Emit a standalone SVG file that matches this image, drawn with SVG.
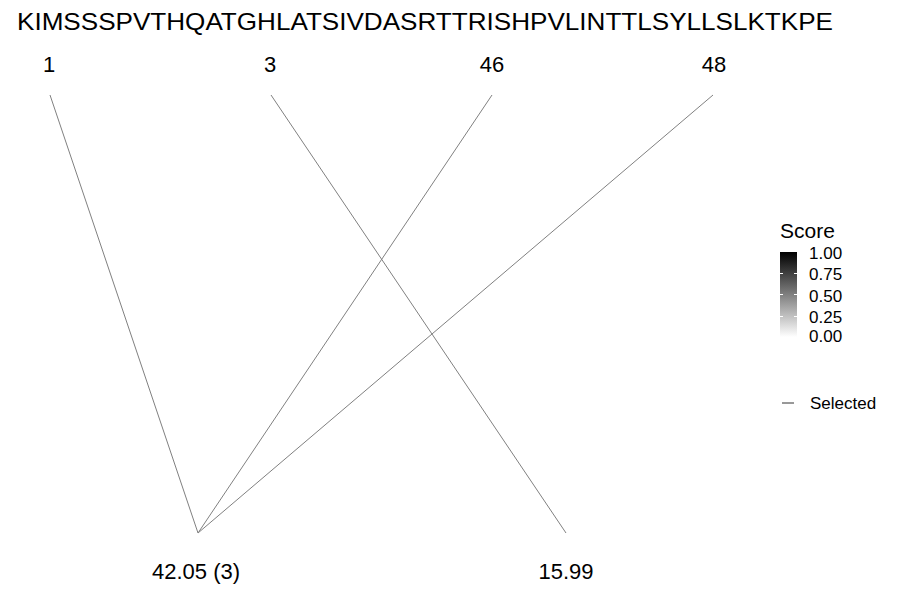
<svg xmlns="http://www.w3.org/2000/svg" width="900" height="600" viewBox="0 0 900 600">
<style>
text{font-family:"Liberation Sans",Arial,sans-serif;fill:#000}
.lbl{font-size:22px;text-anchor:middle}
.tk{font-size:17px}
.conn line{stroke:#808080;stroke-width:1}
</style>
<defs>
<linearGradient id="g" x1="0" y1="0" x2="0" y2="1">
<stop offset="0" stop-color="#000"/>
<stop offset="1" stop-color="#fff"/>
</linearGradient>
</defs>
<rect width="900" height="600" fill="#fff"/>
<text x="17" y="29.5" font-size="24" textLength="816" lengthAdjust="spacingAndGlyphs">KIMSSSPVTHQATGHLATSIVDASRTTRISHPVLINTTLSYLLSLKTKPE</text>
<g id="top-1"><text class="lbl" x="49" y="72">1</text></g>
<g id="top-3"><text class="lbl" x="270" y="72">3</text></g>
<g id="top-46"><text class="lbl" x="492" y="72">46</text></g>
<g id="top-48"><text class="lbl" x="714" y="72">48</text></g>
<g id="bot-42"><text class="lbl" x="196" y="579">42.05 (3)</text></g>
<g id="bot-15"><text class="lbl" x="566" y="579">15.99</text></g>
<g id="connectors" class="conn">
<line x1="50" y1="95" x2="198" y2="533"/>
<line x1="271" y1="95" x2="566" y2="533"/>
<line x1="492" y1="95" x2="198" y2="533"/>
<line x1="713" y1="95" x2="198" y2="533"/>
</g>
<g id="legend">
<text x="780" y="238" font-size="21">Score</text>
<rect x="780" y="252" width="17" height="85" fill="url(#g)"/>
<g stroke="#fff" stroke-width="1">
<line x1="780" y1="273.5" x2="783" y2="273.5"/><line x1="794" y1="273.5" x2="797" y2="273.5"/>
<line x1="780" y1="294.5" x2="783" y2="294.5"/><line x1="794" y1="294.5" x2="797" y2="294.5"/>
<line x1="780" y1="316.5" x2="783" y2="316.5"/><line x1="794" y1="316.5" x2="797" y2="316.5"/>
</g>
<text class="tk" x="809" y="258.5">1.00</text>
<text class="tk" x="809" y="280">0.75</text>
<text class="tk" x="809" y="301.5">0.50</text>
<text class="tk" x="809" y="322.5">0.25</text>
<text class="tk" x="809" y="342">0.00</text>
<line x1="782" y1="403" x2="794" y2="403" stroke="#333" stroke-width="1"/>
<text class="tk" x="810" y="409">Selected</text>
</g>
</svg>
